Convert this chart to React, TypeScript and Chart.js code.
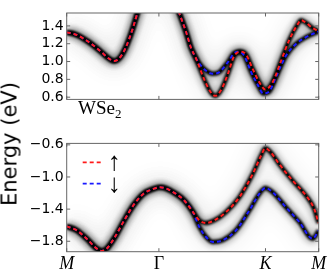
import React, { useEffect, useRef } from "react";
import { Chart, registerables } from "chart.js";
Chart.register(...registerables);

// k-path positions (units of 2π/a): M – Γ – K – M
const K_TICKS = [0, 0.577, 1.244, 1.577];
const K_LABELS = ["M", "Γ", "K", "M"];
const TOP_Y_TICKS = [0.6, 0.8, 1.0, 1.2, 1.4];
const BOT_Y_TICKS = [-1.8, -1.4, -1.0, -0.6];
const TOP_MIN = 0.575;
const TOP_MAX = 1.545;
const BOT_MIN = -1.93;
const BOT_MAX = -0.582;

// Conduction band, spin-degenerate part (M -> Γ -> split)
const CB_SHARED_K = [0, 0.033, 0.071, 0.108, 0.146, 0.183, 0.221, 0.252, 0.277, 0.296, 0.315, 0.34, 0.365, 0.39, 0.415, 0.44, 0.465, 0.577, 0.671, 0.705, 0.747, 0.778, 0.809];
const CB_SHARED_E = [1.325, 1.318, 1.292, 1.255, 1.21, 1.158, 1.1, 1.05, 1.018, 1.005, 1.015, 1.06, 1.14, 1.25, 1.38, 1.53, 1.68, 2.0, 1.7, 1.54, 1.332, 1.154, 1.036];
// spin up branch
const CB_UP_K = [0.861, 0.903, 0.93, 0.966, 1.008, 1.049, 1.091, 1.122, 1.164, 1.205, 1.243, 1.289, 1.341, 1.393, 1.446, 1.466, 1.497, 1.539, 1.577];
const CB_UP_E = [0.798, 0.651, 0.615, 0.68, 0.858, 1.065, 1.109, 1.08, 0.917, 0.769, 0.686, 0.769, 1.006, 1.243, 1.42, 1.465, 1.436, 1.376, 1.338];
// spin down branch
const CB_DN_K = [0.851, 0.914, 0.955, 1.008, 1.049, 1.08, 1.111, 1.153, 1.195, 1.23, 1.268, 1.31, 1.372, 1.435, 1.497, 1.577];
const CB_DN_E = [0.932, 0.864, 0.882, 0.991, 1.095, 1.109, 1.065, 0.887, 0.74, 0.642, 0.665, 0.828, 1.065, 1.198, 1.273, 1.338];

// Valence band, spin-degenerate part
const VB_SHARED_K = [0, 0.063, 0.125, 0.188, 0.219, 0.25, 0.302, 0.354, 0.417, 0.479, 0.542, 0.584, 0.621, 0.684, 0.736, 0.788];
const VB_SHARED_E = [-1.614, -1.664, -1.768, -1.892, -1.92, -1.892, -1.747, -1.561, -1.354, -1.211, -1.149, -1.128, -1.142, -1.211, -1.293, -1.43];
const VB_UP_K = [0.83, 0.872, 0.924, 0.997, 1.08, 1.164, 1.216, 1.243, 1.278, 1.33, 1.414, 1.497, 1.549, 1.571, 1.577];
const VB_UP_E = [-1.54, -1.574, -1.54, -1.437, -1.252, -0.963, -0.736, -0.642, -0.695, -0.84, -1.045, -1.231, -1.397, -1.54, -1.574];
const VB_DN_K = [0.83, 0.872, 0.914, 0.976, 1.059, 1.143, 1.205, 1.243, 1.289, 1.372, 1.456, 1.539, 1.571, 1.577];
const VB_DN_E = [-1.623, -1.747, -1.809, -1.788, -1.664, -1.416, -1.211, -1.137, -1.19, -1.376, -1.561, -1.768, -1.685, -1.664];

const UP_COLOR = "#ff1a1a";
const DN_COLOR = "#1a1aff";

const pts = (ks: number[], es: number[]) => ks.map((k, i) => ({ x: k, y: es[i] }));

function bandDatasets(up: { x: number; y: number }[], dn: { x: number; y: number }[]) {
  const base = { pointRadius: 0, cubicInterpolationMode: "monotone", clip: 0, fill: false };
  const glow = (data: any, width: number, color: string, blur: number, order: number) => ({
    ...base, data, borderWidth: width, borderColor: color, blur, order,
  });
  return [
    glow(up, 26, "rgba(0,0,0,0.04)", 9, 6),
    glow(dn, 26, "rgba(0,0,0,0.04)", 9, 6),
    glow(up, 9, "rgba(0,0,0,0.3)", 3.2, 5),
    glow(dn, 9, "rgba(0,0,0,0.3)", 3.2, 5),
    glow(up, 4.5, "#000", 1.3, 4),
    glow(dn, 4.5, "#000", 1.3, 4),
    { ...base, data: dn, borderWidth: 2, borderColor: DN_COLOR, borderDash: [4, 3], order: 2 },
    { ...base, data: up, borderWidth: 2, borderColor: UP_COLOR, borderDash: [4, 3], order: 1 },
  ];
}

const blurPlugin = {
  id: "blurLayer",
  beforeDatasetDraw(chart: any, args: any) {
    const ds = chart.data.datasets[args.index];
    if (ds.blur) {
      chart.ctx.save();
      chart.ctx.filter = `blur(${ds.blur}px)`;
    }
  },
  afterDatasetDraw(chart: any, args: any) {
    const ds = chart.data.datasets[args.index];
    if (ds.blur) chart.ctx.restore();
  },
};

const framePlugin = {
  id: "frameTicks",
  afterDatasetsDraw(chart: any, _a: any, opts: any) {
    const { ctx, chartArea: a, scales } = chart;
    ctx.save();
    ctx.strokeStyle = "#666";
    ctx.lineWidth = 1;
    ctx.strokeRect(a.left, a.top, a.right - a.left, a.bottom - a.top);
    const L = 3.5;
    ctx.beginPath();
    for (const v of K_TICKS) {
      const x = scales.x.getPixelForValue(v);
      ctx.moveTo(x, a.top);
      ctx.lineTo(x, a.top + L);
      ctx.moveTo(x, a.bottom);
      ctx.lineTo(x, a.bottom - L);
    }
    for (const v of opts.yTicks) {
      const y = scales.y.getPixelForValue(v);
      ctx.moveTo(a.left, y);
      ctx.lineTo(a.left + L, y);
      ctx.moveTo(a.right, y);
      ctx.lineTo(a.right - L, y);
    }
    ctx.stroke();
    ctx.restore();
  },
};

const legendPlugin = {
  id: "spinLegend",
  afterDatasetsDraw(chart: any) {
    const { ctx, chartArea: a } = chart;
    const items: [string, number, string][] = [
      [UP_COLOR, 19, "↑"],
      [DN_COLOR, 40.3, "↓"],
    ];
    ctx.save();
    for (const [color, dy, label] of items) {
      ctx.strokeStyle = color;
      ctx.lineWidth = 1.8;
      ctx.setLineDash([4, 3]);
      ctx.beginPath();
      ctx.moveTo(a.left + 16, a.top + dy);
      ctx.lineTo(a.left + 37, a.top + dy);
      ctx.stroke();
      ctx.setLineDash([]);
      ctx.fillStyle = "#000";
      ctx.font = "26px 'Liberation Serif'";
      ctx.textAlign = "center";
      ctx.textBaseline = "middle";
      ctx.fillText(label, a.left + 47.6, a.top + dy + 1);
    }
    ctx.restore();
  },
};

const fmt = (v: number) => v.toFixed(1).replace("-", "\u2212");

function yScale(min: number, max: number, ticks: number[]) {
  return {
    type: "linear",
    min,
    max,
    afterBuildTicks: (s: any) => {
      s.ticks = ticks.map((v) => ({ value: v }));
    },
    afterFit: (s: any) => {
      s.width = 66.7;
    },
    ticks: {
      callback: (v: number) => fmt(v),
      font: { family: "DejaVu Sans", size: 14 },
      color: "#000",
      padding: 3,
    },
    grid: { display: false, drawTicks: false },
    border: { display: false },
  };
}

function xScale(show: boolean) {
  return {
    type: "linear",
    min: K_TICKS[0],
    max: K_TICKS[K_TICKS.length - 1],
    display: show,
    afterBuildTicks: (s: any) => {
      s.ticks = K_TICKS.map((v) => ({ value: v }));
    },
    afterFit: (s: any) => {
      s.height = 22.3;
    },
    ticks: {
      callback: (_v: number, i: number) => K_LABELS[i],
      font: (c: any) => ({ family: "Liberation Serif", size: 18, style: c.index === 1 ? "normal" : "italic" }),
      color: "#000",
      padding: 2,
      maxRotation: 0,
      autoSkip: false,
    },
    grid: { display: false, drawTicks: false },
    border: { display: false },
  };
}

function config(datasets: any[], yMin: number, yMax: number, yTicks: number[], bottom: boolean) {
  return {
    type: "line",
    data: { datasets },
    options: {
      animation: false,
      responsive: false,
      devicePixelRatio: 1,
      parsing: true,
      layout: { padding: bottom ? { top: 11, right: 13.3, bottom: 0, left: 0 } : { top: 13, right: 13.3, bottom: 10.3, left: 0 } },
      scales: { x: xScale(bottom), y: yScale(yMin, yMax, yTicks) },
      plugins: {
        legend: { display: false },
        tooltip: { enabled: false },
        frameTicks: { yTicks },
      },
      events: [],
    },
    plugins: bottom ? [blurPlugin, framePlugin, legendPlugin] : [blurPlugin, framePlugin],
  };
}

export default function App() {
  const topRef = useRef<HTMLCanvasElement>(null);
  const botRef = useRef<HTMLCanvasElement>(null);
  useEffect(() => {
    const cbUp = pts(CB_SHARED_K.concat(CB_UP_K), CB_SHARED_E.concat(CB_UP_E));
    const cbDn = pts(CB_SHARED_K.concat(CB_DN_K), CB_SHARED_E.concat(CB_DN_E));
    const vbUp = pts(VB_SHARED_K.concat(VB_UP_K), VB_SHARED_E.concat(VB_UP_E));
    const vbDn = pts(VB_SHARED_K.concat(VB_DN_K), VB_SHARED_E.concat(VB_DN_E));
    const c1 = new Chart(topRef.current as any, config(bandDatasets(cbUp, cbDn), TOP_MIN, TOP_MAX, TOP_Y_TICKS, false) as any);
    const c2 = new Chart(botRef.current as any, config(bandDatasets(vbUp, vbDn), BOT_MIN, BOT_MAX, BOT_Y_TICKS, true) as any);
    return () => {
      c1.destroy();
      c2.destroy();
    };
  }, []);
  return (
    <div style={{ position: "absolute", left: 0, top: 0, width: 332, height: 274, background: "#fff", overflow: "hidden" }}>
      <canvas ref={topRef} width={332} height={132} style={{ position: "absolute", left: 0, top: 0, width: 332, height: 132 }} />
      <canvas ref={botRef} width={332} height={142} style={{ position: "absolute", left: 0, top: 132, width: 332, height: 142 }} />
      <div
        style={{
          position: "absolute",
          left: 10,
          top: 144,
          transform: "translate(-50%,-50%) rotate(-90deg)",
          fontFamily: "'DejaVu Sans'",
          fontSize: 21,
          lineHeight: "21px",
          whiteSpace: "nowrap",
          color: "#000",
        }}
      >
        Energy (eV)
      </div>
      <div
        style={{
          position: "absolute",
          left: 78,
          top: 98.4,
          fontFamily: "'Liberation Serif'",
          fontSize: 19,
          lineHeight: "19px",
          whiteSpace: "nowrap",
          color: "#000",
        }}
      >
        WSe<span style={{ fontSize: 13, position: "relative", top: 4 }}>2</span>
      </div>
    </div>
  );
}
